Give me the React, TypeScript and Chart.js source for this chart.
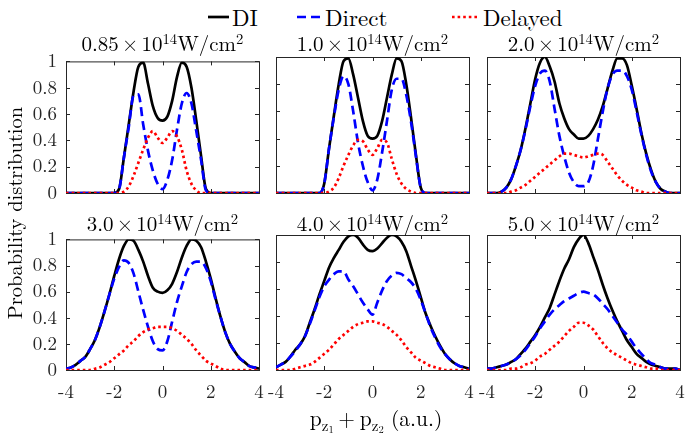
import React, { useEffect, useRef } from "react";
import { Chart, registerables } from "chart.js";

Chart.register(...registerables);

// ---------------- data ----------------
const PZ = [-4, -3.8, -3.6, -3.4, -3.2, -3, -2.8, -2.6, -2.4, -2.2, -2, -1.8, -1.6, -1.4, -1.2, -1, -0.8, -0.6, -0.4, -0.2, 0, 0.2, 0.4, 0.6, 0.8, 1, 1.2, 1.4, 1.6, 1.8, 2, 2.2, 2.4, 2.6, 2.8, 3, 3.2, 3.4, 3.6, 3.8, 4];

const INTENSITIES = ["0.85", "1.0", "2.0", "3.0", "4.0", "5.0"];
const SERIES_NAMES = ["DI", "Direct", "Delayed"];
const X_TICKS = [-4, -2, 0, 2, 4];
const Y_TICKS = [0, 0.2, 0.4, 0.6, 0.8, 1];

const DI_085 = [0, 0, 0, 0, 0, 0, 0, 0, 0, 0, 0, 0.03, 0.27, 0.52, 0.77, 0.96, 0.99, 0.83, 0.66, 0.57, 0.55, 0.58, 0.7, 0.88, 0.99, 0.96, 0.8, 0.55, 0.28, 0.03, 0, 0, 0, 0, 0, 0, 0, 0, 0, 0, 0];
const DIRECT_085 = [0, 0, 0, 0, 0, 0, 0, 0, 0, 0, 0, 0.03, 0.27, 0.5, 0.74, 0.75, 0.52, 0.32, 0.17, 0.07, 0.03, 0.1, 0.25, 0.48, 0.68, 0.76, 0.68, 0.47, 0.25, 0.02, 0, 0, 0, 0, 0, 0, 0, 0, 0, 0, 0];
const DELAYED_085 = [0, 0, 0, 0, 0, 0, 0, 0, 0, 0, 0, 0, 0.01, 0.05, 0.13, 0.23, 0.33, 0.42, 0.47, 0.42, 0.38, 0.42, 0.47, 0.43, 0.33, 0.17, 0.07, 0.02, 0, 0, 0, 0, 0, 0, 0, 0, 0, 0, 0, 0, 0];

const DI_10 = [0, 0, 0, 0, 0, 0, 0, 0, 0, 0, 0.07, 0.33, 0.57, 0.8, 0.97, 0.99, 0.87, 0.7, 0.53, 0.42, 0.4, 0.42, 0.53, 0.7, 0.87, 0.99, 0.97, 0.8, 0.55, 0.28, 0.04, 0, 0, 0, 0, 0, 0, 0, 0, 0, 0];
const DIRECT_10 = [0, 0, 0, 0, 0, 0, 0, 0, 0, 0, 0.07, 0.33, 0.56, 0.76, 0.86, 0.8, 0.6, 0.37, 0.2, 0.08, 0.02, 0.1, 0.3, 0.53, 0.76, 0.84, 0.84, 0.72, 0.52, 0.27, 0.04, 0, 0, 0, 0, 0, 0, 0, 0, 0, 0];
const DELAYED_10 = [0, 0, 0, 0, 0, 0, 0, 0, 0, 0, 0, 0.01, 0.04, 0.11, 0.2, 0.28, 0.35, 0.39, 0.38, 0.32, 0.28, 0.33, 0.39, 0.37, 0.25, 0.14, 0.07, 0.03, 0.01, 0, 0, 0, 0, 0, 0, 0, 0, 0, 0, 0, 0];

const DI_20 = [0, 0, 0, 0.01, 0.04, 0.1, 0.2, 0.32, 0.48, 0.66, 0.84, 0.96, 1, 0.93, 0.82, 0.66, 0.55, 0.47, 0.43, 0.4, 0.4, 0.42, 0.47, 0.54, 0.64, 0.77, 0.9, 0.99, 0.99, 0.94, 0.79, 0.62, 0.44, 0.29, 0.17, 0.08, 0.03, 0.01, 0, 0, 0];
const DIRECT_20 = [0, 0, 0, 0.01, 0.04, 0.1, 0.2, 0.32, 0.47, 0.64, 0.79, 0.88, 0.9, 0.82, 0.62, 0.42, 0.27, 0.15, 0.08, 0.05, 0.05, 0.08, 0.2, 0.4, 0.6, 0.77, 0.87, 0.9, 0.9, 0.86, 0.76, 0.6, 0.43, 0.28, 0.16, 0.08, 0.03, 0.01, 0, 0, 0];
const DELAYED_20 = [0, 0, 0, 0, 0, 0.01, 0.02, 0.04, 0.06, 0.09, 0.12, 0.15, 0.18, 0.21, 0.24, 0.27, 0.29, 0.29, 0.28, 0.27, 0.26, 0.27, 0.28, 0.29, 0.28, 0.23, 0.18, 0.13, 0.09, 0.06, 0.04, 0.02, 0.01, 0, 0, 0, 0, 0, 0, 0, 0];

const DI_30 = [0.01, 0.02, 0.04, 0.07, 0.1, 0.16, 0.23, 0.33, 0.45, 0.58, 0.72, 0.85, 0.95, 1, 0.99, 0.92, 0.83, 0.72, 0.63, 0.6, 0.59, 0.61, 0.66, 0.75, 0.86, 0.95, 1, 0.99, 0.94, 0.83, 0.7, 0.55, 0.41, 0.29, 0.2, 0.14, 0.09, 0.06, 0.03, 0.02, 0.01];
const DIRECT_30 = [0.01, 0.02, 0.04, 0.07, 0.1, 0.16, 0.23, 0.33, 0.45, 0.58, 0.7, 0.79, 0.84, 0.82, 0.74, 0.6, 0.46, 0.33, 0.22, 0.16, 0.15, 0.22, 0.37, 0.52, 0.64, 0.75, 0.81, 0.83, 0.83, 0.78, 0.68, 0.54, 0.41, 0.29, 0.2, 0.14, 0.09, 0.06, 0.03, 0.02, 0.01];
const DELAYED_30 = [0, 0, 0, 0, 0, 0, 0.01, 0.02, 0.04, 0.06, 0.09, 0.12, 0.15, 0.19, 0.22, 0.26, 0.29, 0.31, 0.32, 0.33, 0.33, 0.33, 0.32, 0.3, 0.27, 0.24, 0.2, 0.15, 0.11, 0.07, 0.05, 0.03, 0.01, 0, 0, 0, 0, 0, 0, 0, 0];

const DI_40 = [0.02, 0.04, 0.06, 0.1, 0.15, 0.19, 0.25, 0.35, 0.45, 0.56, 0.66, 0.76, 0.83, 0.89, 0.95, 0.99, 1, 0.98, 0.93, 0.89, 0.88, 0.9, 0.94, 0.98, 1, 0.99, 0.95, 0.88, 0.77, 0.66, 0.54, 0.42, 0.33, 0.25, 0.18, 0.12, 0.08, 0.05, 0.03, 0.02, 0.01];
const DIRECT_40 = [0.02, 0.04, 0.06, 0.1, 0.14, 0.19, 0.25, 0.34, 0.44, 0.54, 0.62, 0.67, 0.71, 0.73, 0.73, 0.67, 0.62, 0.56, 0.5, 0.45, 0.41, 0.5, 0.59, 0.66, 0.7, 0.72, 0.71, 0.68, 0.65, 0.6, 0.52, 0.42, 0.32, 0.24, 0.17, 0.12, 0.08, 0.05, 0.03, 0.02, 0.01];
const DELAYED_40 = [0, 0, 0, 0, 0.01, 0.02, 0.03, 0.04, 0.06, 0.09, 0.12, 0.15, 0.19, 0.23, 0.26, 0.29, 0.32, 0.34, 0.35, 0.36, 0.36, 0.35, 0.34, 0.32, 0.29, 0.26, 0.22, 0.17, 0.13, 0.09, 0.07, 0.05, 0.03, 0.02, 0.01, 0, 0, 0, 0, 0, 0];

const DI_50 = [0.01, 0.01, 0.02, 0.03, 0.04, 0.06, 0.08, 0.12, 0.16, 0.21, 0.26, 0.32, 0.39, 0.46, 0.56, 0.66, 0.75, 0.82, 0.91, 0.97, 1, 0.94, 0.84, 0.74, 0.63, 0.53, 0.44, 0.36, 0.29, 0.22, 0.17, 0.12, 0.09, 0.06, 0.04, 0.03, 0.02, 0.01, 0.01, 0.01, 0];
const DIRECT_50 = [0.01, 0.01, 0.02, 0.03, 0.04, 0.06, 0.08, 0.11, 0.15, 0.2, 0.25, 0.31, 0.36, 0.41, 0.45, 0.48, 0.51, 0.53, 0.55, 0.57, 0.58, 0.57, 0.56, 0.53, 0.49, 0.45, 0.4, 0.35, 0.3, 0.26, 0.21, 0.16, 0.12, 0.08, 0.05, 0.04, 0.02, 0.01, 0.01, 0.01, 0];
const DELAYED_50 = [0, 0, 0, 0, 0, 0.01, 0.01, 0.02, 0.04, 0.05, 0.07, 0.1, 0.12, 0.15, 0.18, 0.21, 0.25, 0.29, 0.32, 0.35, 0.35, 0.33, 0.3, 0.25, 0.2, 0.16, 0.13, 0.11, 0.09, 0.07, 0.05, 0.04, 0.03, 0.02, 0.01, 0.01, 0, 0, 0, 0, 0];

const PANEL_SERIES = [
  [DI_085, DIRECT_085, DELAYED_085],
  [DI_10, DIRECT_10, DELAYED_10],
  [DI_20, DIRECT_20, DELAYED_20],
  [DI_30, DIRECT_30, DELAYED_30],
  [DI_40, DIRECT_40, DELAYED_40],
  [DI_50, DIRECT_50, DELAYED_50],
];

// ---------------- layout / style ----------------
const COLS = [
  [66, 259],
  [276, 469],
  [487, 680],
];
const ROWS = [
  [57, 193],
  [235, 370],
];
const PAD_L = 60;
const PAD_R = 16;
const PAD_T = 16;
const PAD_B = 40;

const FONT = '"Latin Modern Roman", "CMU Serif", "Liberation Serif", serif';
const AXIS_COLOR = "#262626";
const COLORS = ["#000000", "#0000ff", "#ff0000"];
const DASHES: number[][] = [[], [9, 5], [2.6, 3]];
const LINE_W = 2.7;

const boxPlugin = {
  id: "matlabBox",
  beforeDatasetsDraw(chart: any) {
    const { ctx, chartArea } = chart;
    const { left, right, top, bottom } = chartArea;
    const xs = chart.scales.x;
    const ys = chart.scales.y;
    const tl = 4;
    ctx.save();
    ctx.strokeStyle = AXIS_COLOR;
    ctx.lineWidth = 1;
    ctx.setLineDash([]);
    ctx.strokeRect(left + 0.5, top + 0.5, right - left, bottom - top);
    ctx.beginPath();
    X_TICKS.forEach((v) => {
      const px = Math.round(xs.getPixelForValue(v)) + 0.5;
      ctx.moveTo(px, bottom);
      ctx.lineTo(px, bottom - tl);
      ctx.moveTo(px, top);
      ctx.lineTo(px, top + tl);
    });
    Y_TICKS.forEach((v) => {
      const py = Math.round(ys.getPixelForValue(v)) + 0.5;
      ctx.moveTo(left, py);
      ctx.lineTo(left + tl, py);
      ctx.moveTo(right, py);
      ctx.lineTo(right - tl, py);
    });
    ctx.stroke();
    ctx.restore();
  },
};

function Panel({ index }: { index: number }) {
  const ref = useRef<HTMLCanvasElement | null>(null);
  const col = index % 3;
  const row = Math.floor(index / 3);
  const [x0, x1] = COLS[col];
  const [y0, y1] = ROWS[row];
  const w = x1 - x0 + PAD_L + PAD_R;
  const h = y1 - y0 + PAD_T + PAD_B;

  useEffect(() => {
    if (!ref.current) return;
    const series = PANEL_SERIES[index];
    const chart = new Chart(ref.current, {
      type: "line",
      data: {
        datasets: series.map((vals, s) => ({
          label: SERIES_NAMES[s],
          data: PZ.map((x, i) => ({ x, y: vals[i] })),
          borderColor: COLORS[s],
          borderWidth: LINE_W,
          borderDash: DASHES[s],
          pointRadius: 0,
          fill: false,
          cubicInterpolationMode: "monotone" as const,
          order: 3 - s,
        })),
      },
      options: {
        animation: false,
        responsive: false,
        devicePixelRatio: 1,
        layout: { padding: { top: PAD_T, right: PAD_R, left: 0, bottom: 0 } },
        plugins: {
          legend: { display: false },
          tooltip: { enabled: false },
          title: { display: false },
        },
        scales: {
          x: {
            type: "linear",
            min: -4,
            max: 4,
            grid: { display: false, drawTicks: false },
            border: { display: false },
            ticks: {
              display: row === 1,
              stepSize: 2,
              padding: 11,
              maxRotation: 0,
              color: AXIS_COLOR,
              font: { family: FONT, size: 19 },
              callback: (v: any) => String(v),
            },
            afterFit: (s: any) => {
              s.height = PAD_B;
            },
          },
          y: {
            type: "linear",
            min: 0,
            max: 1,
            grid: { display: false, drawTicks: false },
            border: { display: false },
            ticks: {
              display: col === 0,
              stepSize: 0.2,
              padding: 9,
              color: AXIS_COLOR,
              font: { family: FONT, size: 19 },
              callback: (v: any) => String(Math.round(Number(v) * 10) / 10),
            },
            afterFit: (s: any) => {
              s.width = PAD_L;
            },
          },
        },
      },
      plugins: [boxPlugin],
    });
    return () => chart.destroy();
  }, [index]);

  return (
    <div
      style={{
        position: "absolute",
        left: x0 - PAD_L,
        top: y0 - PAD_T,
        width: w,
        height: h,
      }}
    >
      <canvas ref={ref} width={w} height={h} style={{ width: w, height: h, display: "block" }} />
    </div>
  );
}

const supStyle: React.CSSProperties = {
  fontSize: "0.7em",
  position: "relative",
  top: "-0.5em",
};

function Title({ index }: { index: number }) {
  const col = index % 3;
  const row = Math.floor(index / 3);
  const cx = (COLS[col][0] + COLS[col][1]) / 2;
  const cy = row === 0 ? 42 : 222;
  return (
    <div
      style={{
        position: "absolute",
        left: cx - 120,
        top: cy - 13,
        width: 240,
        height: 26,
        lineHeight: "26px",
        textAlign: "center",
        fontSize: 21,
        whiteSpace: "nowrap",
      }}
    >
      {INTENSITIES[index]}
      <span style={{ margin: "0 0.15em" }}>×</span>10<span style={supStyle}>14</span>W/cm<span style={supStyle}>2</span>
    </div>
  );
}

function LegendItem({ x, textX, label, dash, color }: any) {
  return (
    <>
      <svg
        style={{ position: "absolute", left: x, top: 12, overflow: "visible" }}
        width={textX - x - 2}
        height={10}
      >
        <line
          x1={0}
          y1={5}
          x2={textX - x - 3}
          y2={5}
          stroke={color}
          strokeWidth={LINE_W}
          strokeDasharray={dash}
        />
      </svg>
      <div
        style={{
          position: "absolute",
          left: textX,
          top: 3,
          height: 28,
          lineHeight: "28px",
          fontSize: 23,
          whiteSpace: "nowrap",
        }}
      >
        {label}
      </div>
    </>
  );
}

export default function App() {
  const subStyle: React.CSSProperties = { fontSize: "0.7em", position: "relative", top: "0.3em" };
  const subSubStyle: React.CSSProperties = { fontSize: "0.7em", position: "relative", top: "0.25em" };
  return (
    <div
      style={{
        position: "absolute",
        left: 0,
        top: 0,
        width: 687,
        height: 434,
        background: "#ffffff",
        fontFamily: FONT,
        color: "#000",
        overflow: "hidden",
      }}
    >
      <LegendItem x={208} textX={232} label={SERIES_NAMES[0]} dash="" color={COLORS[0]} />
      <LegendItem x={297} textX={325} label={SERIES_NAMES[1]} dash="9,5" color={COLORS[1]} />
      <LegendItem x={452} textX={483} label={SERIES_NAMES[2]} dash="2.6,3" color={COLORS[2]} />

      {[0, 1, 2, 3, 4, 5].map((i) => (
        <Panel key={"p" + i} index={i} />
      ))}
      {[0, 1, 2, 3, 4, 5].map((i) => (
        <Title key={"t" + i} index={i} />
      ))}

      <div
        style={{
          position: "absolute",
          left: 14 - 160,
          top: 213 - 13,
          width: 320,
          height: 26,
          lineHeight: "26px",
          textAlign: "center",
          fontSize: 20.5,
          transform: "rotate(-90deg)",
          whiteSpace: "nowrap",
        }}
      >
        Probability distribution
      </div>

      <div
        style={{
          position: "absolute",
          left: 376 - 150,
          top: 417 - 14,
          width: 300,
          height: 28,
          lineHeight: "28px",
          textAlign: "center",
          fontSize: 21.5,
          whiteSpace: "nowrap",
        }}
      >
        p<span style={subStyle}>z<span style={subSubStyle}>1</span></span>
        <span style={{ margin: "0 0.22em" }}>+</span>p<span style={subStyle}>z<span style={subSubStyle}>2</span></span>
        {" (a.u.)"}
      </div>
    </div>
  );
}
